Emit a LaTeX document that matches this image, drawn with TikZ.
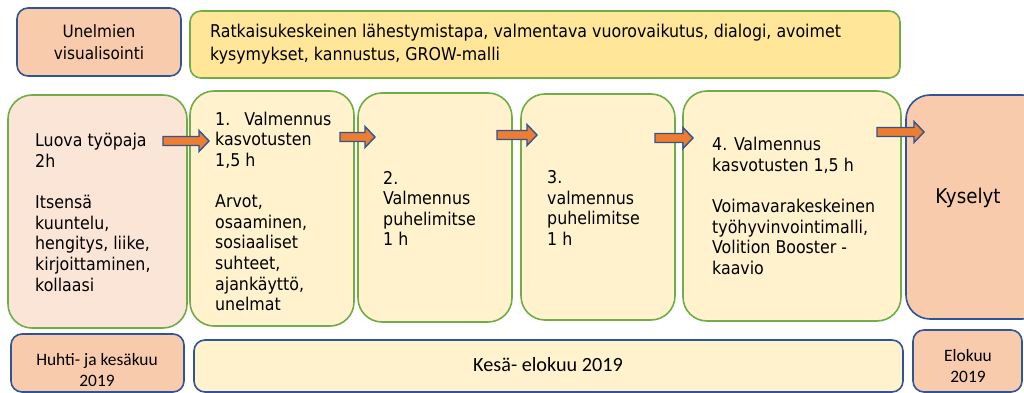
\documentclass[tikz,border=0pt]{standalone}
\usepackage{fontspec}
\setmainfont{DejaVu Sans Condensed}
\newfontfamily\calib{Carlito}
\definecolor{salmon}{HTML}{F8CBAD}
\definecolor{pinklt}{HTML}{FBE5D6}
\definecolor{yellowlt}{HTML}{FFF2CC}
\definecolor{yellowmd}{HTML}{FFE699}
\definecolor{greenb}{HTML}{70AD47}
\definecolor{blueb}{HTML}{2F5597}
\definecolor{orangea}{HTML}{ED7D31}
\begin{document}
\begin{tikzpicture}[x=1pt,y=-1pt,
  box/.style={draw, line width=1.6pt, inner sep=0pt, outer sep=0pt, rounded corners=#1},
  box/.default=24pt,
  gbox/.style={box=#1, draw=greenb},
  gbox/.default=24pt,
  bbox/.style={box=#1, draw=blueb},
  bbox/.default=24pt,
  txt/.style={anchor=west, align=left, inner sep=0pt, font=\fontsize{17.6}{20.6}\selectfont},
  ctxt/.style={align=center, inner sep=0pt, font=\fontsize{17}{22}\selectfont},
  btxt/.style={align=center, inner sep=0pt, font=\calib\fontsize{17.4}{20.5}\selectfont},
  blockarrow/.style={fill=orangea, draw=blueb, line width=1.4pt, line join=miter}
]
\useasboundingbox (0,0) rectangle (1024,393);
\begin{scope}
\clip (0,0) rectangle (1024,393);
% top row
\node[bbox=11pt, fill=salmon, minimum width=164pt, minimum height=68pt] (U) at (99,42) {};
\node[ctxt] (Ut) at (U.center) {Unelmien\\visualisointi};
\node[gbox=11pt, fill=yellowmd, minimum width=710pt, minimum height=67pt] (Y) at (545,44.5) {};
\node[txt, font=\fontsize{17.6}{23}\selectfont] (Yt) at ([xshift=20pt]Y.west) {Ratkaisukeskeinen lähestymistapa, valmentava vuorovaikutus, dialogi, avoimet\\kysymykset, kannustus, GROW-malli};
% middle row
\node[gbox, fill=pinklt, minimum width=179pt, minimum height=233pt] (b1) at (97.5,211.5) {};
\node[gbox, fill=yellowlt, minimum width=164pt, minimum height=235pt] (b2) at (272,208.5) {};
\node[gbox, fill=yellowlt, minimum width=154pt, minimum height=229pt] (b3) at (435,207.5) {};
\node[gbox, fill=yellowlt, minimum width=154pt, minimum height=226pt] (b4) at (598,207) {};
\node[gbox, fill=yellowlt, minimum width=218pt, minimum height=230pt] (b5) at (792,206) {};
\node[bbox, fill=salmon, minimum width=140pt, minimum height=224pt] (b6) at (976,207) {};
\node[txt] (t1) at ([xshift=27pt,yshift=-1pt]b1.west) {Luova työpaja\\2h\\[20.6pt]Itsensä\\kuuntelu,\\hengitys, liike,\\kirjoittaminen,\\kollaasi};
\node[txt] (t2) at ([xshift=25pt,yshift=-3pt]b2.west) {1.\hspace{14pt}Valmennus\\kasvotusten\\1,5 h\\[20.6pt]Arvot,\\osaaminen,\\sosiaaliset\\suhteet,\\ajankäyttö,\\unelmat};
\node[txt] (t3) at ([xshift=25pt,yshift=-1pt]b3.west) {2.\\Valmennus\\puhelimitse\\1 h};
\node[txt] (t4) at ([xshift=26pt,yshift=-1pt]b4.west) {3.\\valmennus\\puhelimitse\\1 h};
\node[txt] (t5) at ([xshift=29pt]b5.west) {4. Valmennus\\kasvotusten 1,5 h\\[20.6pt]Voimavarakeskeinen\\työhyvinvointimalli,\\Volition Booster -\\kaavio};
\node[ctxt, font=\fontsize{20.3}{24}\selectfont] (t6) at (968,198) {Kyselyt};
% bottom row
\node[bbox=11pt, fill=salmon, minimum width=173pt, minimum height=58pt] (h) at (97.5,363) {};
\node[bbox=11pt, fill=yellowlt, minimum width=709pt, minimum height=52pt] (k) at (548.5,366) {};
\node[bbox=11pt, fill=salmon, minimum width=109pt, minimum height=62pt] (e) at (967.5,361) {};
\node[btxt] (ht) at (97,370) {Huhti- ja kesäkuu\\2019};
\node[btxt, font=\calib\fontsize{20.2}{24}\selectfont] (kt) at (548,365) {Kesä- elokuu 2019};
\node[btxt] (et) at (968,366) {Elokuu\\2019};
% block arrows
\foreach \x/\y/\L in {163/141/46, 340/137/35, 497/135/40, 655/138/38, 877/132/47}{
  \draw[blockarrow] (\x,\y-4.5) -- (\x+\L-10,\y-4.5) -- (\x+\L-10,\y-10.5) -- (\x+\L,\y) -- (\x+\L-10,\y+10.5) -- (\x+\L-10,\y+4.5) -- (\x,\y+4.5) -- cycle;
}
\end{scope}
\end{tikzpicture}
\end{document}
